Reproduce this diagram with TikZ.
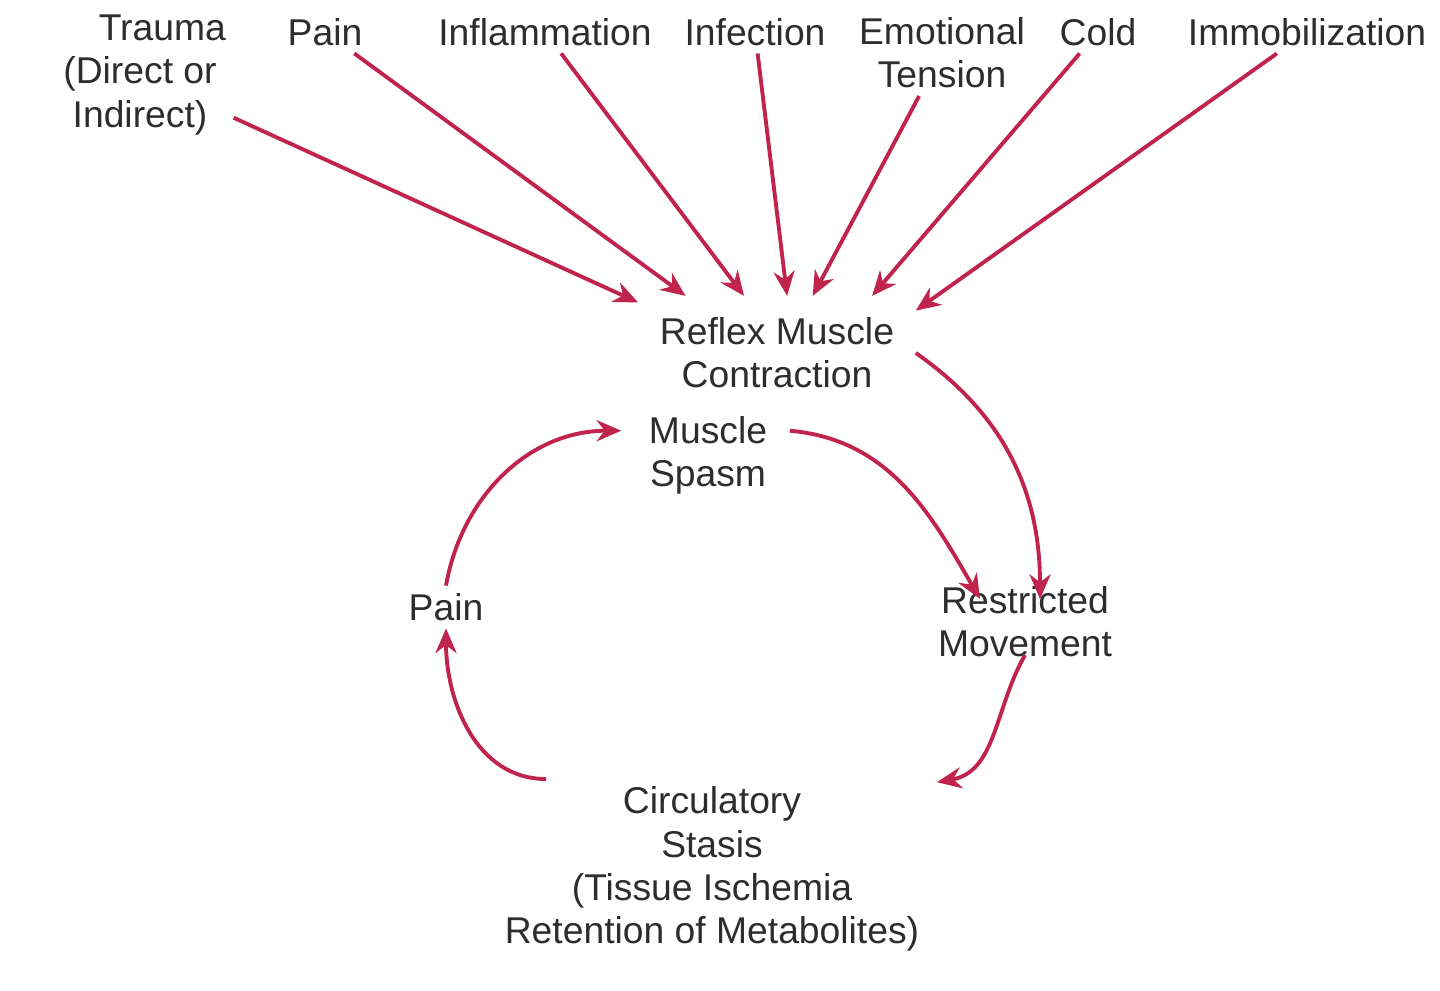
\documentclass[tikz,border=0pt]{standalone}
\usepackage{fontspec}
\setmainfont{Liberation Sans}
\usetikzlibrary{arrows.meta}
\definecolor{arr}{RGB}{192,36,76}
\definecolor{txt}{RGB}{45,45,45}
\begin{document}
\begin{tikzpicture}[x=0.01cm,y=-0.01cm,
  lbl/.style={align=center,text=txt,font=\fontsize{10.6}{12.3}\selectfont,inner sep=2pt},
  ar/.style={draw=arr,line width=1.1pt,-{Stealth[length=7pt,width=6pt]}}]
\useasboundingbox (0,0) rectangle (1440,990);
\node[lbl] (trauma) at (140,75) {\hspace*{1.2em}Trauma\\(Direct or\\Indirect)};
\node[lbl] (pain1) at (325,32) {Pain};
\node[lbl] (infl) at (545,32) {Inflammation};
\node[lbl] (infe) at (755,32) {Infection};
\node[lbl] (emo) at (942,53) {Emotional\\Tension};
\node[lbl] (cold) at (1098,32) {Cold};
\node[lbl] (immo) at (1307,32) {Immobilization};
\node[lbl,inner sep=6pt] (rmc) at (777,353) {Reflex Muscle\\Contraction};
\node[lbl] (spasm) at (708,455) {Muscle\\Spasm};
\node[lbl] (pain2) at (446,607) {Pain};
\node[lbl] (rm) at (1025,622) {Restricted\\Movement};
\node[lbl] (circ) at (712,869) {Circulatory\\Stasis\\(Tissue Ischemia\\Retention of Metabolites)};
\draw[ar] (trauma) -- (rmc.160);
\draw[ar] (pain1) -- (rmc.148);
\draw[ar] (infl) -- (rmc.120);
\draw[ar] (infe) -- (rmc.80);
\draw[ar] (emo) -- (rmc.58);
\draw[ar] (cold) -- (rmc.31);
\draw[ar] (immo) -- (rmc.17);
\draw[ar] (rmc.east) to[out=-35,in=90] ([yshift=-0.2cm,xshift=0.15cm]rm.north);
\draw[ar] ([xshift=0.15cm]spasm.20) to[out=-5,in=120] ([yshift=-0.2cm,xshift=-0.45cm]rm.north);
\draw[ar] ([yshift=0.1cm]rm.south) to[out=-120,in=10] ([xshift=0.1cm]circ.22);
\draw[ar] ([xshift=-0.1cm]circ.150) to[out=180,in=-90] (pain2.south);
\draw[ar] (pain2.north) to[out=80,in=180] ([xshift=-0.2cm]spasm.160);
\end{tikzpicture}
\end{document}
